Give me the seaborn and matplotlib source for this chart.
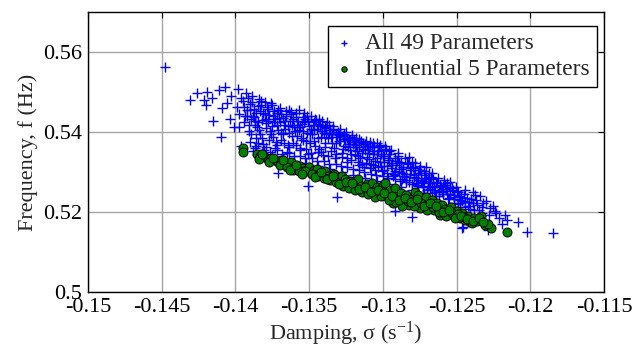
import matplotlib
matplotlib.use("Agg")
import matplotlib.pyplot as plt
from matplotlib.ticker import FuncFormatter, FixedLocator
import seaborn as sns
import pandas as pd

# ---------------- data (damping, frequency) ----------------
legend_labels = ["All 49 Parameters", "Influential 5 Parameters"]
x_ticks = [-0.15, -0.145, -0.14, -0.135, -0.13, -0.125, -0.12, -0.115]
y_ticks = [0.5, 0.52, 0.54, 0.56]

blue_pts = [
    (-0.14480, 0.5562), (-0.14310, 0.5480), (-0.14263, 0.5498), (-0.14190, 0.5501),
    (-0.14210, 0.5480), (-0.14200, 0.5468), (-0.14160, 0.5484), (-0.14150, 0.5428),
    (-0.14110, 0.5505), (-0.14100, 0.5387), (-0.14090, 0.5459), (-0.14070, 0.5513),
    (-0.14060, 0.5472), (-0.14040, 0.5433), (-0.14010, 0.5413), (-0.14030, 0.5490),
    (-0.13985, 0.5508), (-0.13990, 0.5462), (-0.13975, 0.5445), (-0.13960, 0.5365),
    (-0.13950, 0.5478), (-0.13940, 0.5425), (-0.13930, 0.5497), (-0.13920, 0.5455),
    (-0.13905, 0.5402), (-0.13900, 0.5470), (-0.13890, 0.5490), (-0.13880, 0.5440),
    (-0.13870, 0.5418), (-0.13860, 0.5385), (-0.13850, 0.5465), (-0.13840, 0.5482),
    (-0.13830, 0.5452), (-0.13820, 0.5430), (-0.13810, 0.5370), (-0.13800, 0.5475),
    (-0.13790, 0.5410), (-0.13780, 0.5458), (-0.13770, 0.5442), (-0.13760, 0.5395),
    (-0.13750, 0.5468), (-0.13740, 0.5425), (-0.13730, 0.5360), (-0.13720, 0.5448),
    (-0.13710, 0.5405), (-0.13700, 0.5460), (-0.13690, 0.5380), (-0.13680, 0.5436),
    (-0.13670, 0.5418), (-0.13660, 0.5452), (-0.13650, 0.5350), (-0.13640, 0.5398),
    (-0.13630, 0.5428), (-0.13620, 0.5445), (-0.13610, 0.5372), (-0.13600, 0.5412),
    (-0.13590, 0.5438), (-0.13580, 0.5390), (-0.13570, 0.5455), (-0.13560, 0.5360),
    (-0.13550, 0.5420), (-0.13540, 0.5402), (-0.13530, 0.5432), (-0.13520, 0.5378),
    (-0.13510, 0.5345), (-0.13500, 0.5415), (-0.13490, 0.5440), (-0.13480, 0.5395),
    (-0.13470, 0.5425), (-0.13460, 0.5365), (-0.13450, 0.5408), (-0.13440, 0.5385),
    (-0.13430, 0.5432), (-0.13420, 0.5350), (-0.13410, 0.5418), (-0.13400, 0.5398),
    (-0.13390, 0.5372), (-0.13380, 0.5425), (-0.13370, 0.5340), (-0.13360, 0.5405),
    (-0.13350, 0.5388), (-0.13340, 0.5415), (-0.13330, 0.5360), (-0.13320, 0.5395),
    (-0.13310, 0.5238), (-0.13300, 0.5378), (-0.13290, 0.5408), (-0.13280, 0.5348),
    (-0.13270, 0.5390), (-0.13260, 0.5365), (-0.13250, 0.5400), (-0.13240, 0.5335),
    (-0.13230, 0.5380), (-0.13220, 0.5355), (-0.13210, 0.5392), (-0.13200, 0.5370),
    (-0.13190, 0.5342), (-0.13180, 0.5385), (-0.13170, 0.5325), (-0.13160, 0.5362),
    (-0.13150, 0.5378), (-0.13140, 0.5348), (-0.13130, 0.5312), (-0.13120, 0.5370),
    (-0.13110, 0.5338), (-0.13100, 0.5358), (-0.13090, 0.5375), (-0.13080, 0.5320),
    (-0.13070, 0.5345), (-0.13060, 0.5365), (-0.13050, 0.5305), (-0.13040, 0.5335),
    (-0.13030, 0.5352), (-0.13020, 0.5368), (-0.13010, 0.5315), (-0.13000, 0.5340),
    (-0.12990, 0.5325), (-0.12980, 0.5358), (-0.12970, 0.5298), (-0.12960, 0.5330),
    (-0.12950, 0.5345), (-0.12940, 0.5310), (-0.12930, 0.5290), (-0.12920, 0.5335),
    (-0.12910, 0.5318), (-0.12900, 0.5347), (-0.12890, 0.5300), (-0.12880, 0.5325),
    (-0.12870, 0.5282), (-0.12860, 0.5312), (-0.12850, 0.5335), (-0.12840, 0.5295),
    (-0.12830, 0.5320), (-0.12820, 0.5275), (-0.12810, 0.5305), (-0.12800, 0.5325),
    (-0.12790, 0.5288), (-0.12780, 0.5310), (-0.12770, 0.5268), (-0.12760, 0.5298),
    (-0.12750, 0.5315), (-0.12740, 0.5280), (-0.12730, 0.5262), (-0.12720, 0.5302),
    (-0.12710, 0.5285), (-0.12700, 0.5255), (-0.12690, 0.5297), (-0.12680, 0.5272),
    (-0.12670, 0.5248), (-0.12660, 0.5282), (-0.12650, 0.5265), (-0.12635, 0.5272),
    (-0.12620, 0.5240), (-0.12600, 0.5258), (-0.12580, 0.5268), (-0.12567, 0.5273),
    (-0.12550, 0.5235), (-0.12533, 0.5259), (-0.12520, 0.5222), (-0.12500, 0.5252),
    (-0.12480, 0.5230), (-0.12465, 0.5159), (-0.12450, 0.5245), (-0.12420, 0.5215),
    (-0.12390, 0.5223), (-0.12374, 0.5243), (-0.12350, 0.5205), (-0.12330, 0.5213),
    (-0.12300, 0.5228), (-0.12284, 0.5155), (-0.12255, 0.5215), (-0.12230, 0.5198),
    (-0.12190, 0.5169), (-0.12160, 0.5180), (-0.12080, 0.5176), (-0.12020, 0.5151),
    (-0.11845, 0.5148),
    (-0.13895, 0.5432), (-0.13875, 0.5458), (-0.13855, 0.5412), (-0.13835, 0.5395),
    (-0.13815, 0.5448), (-0.13795, 0.5432), (-0.13775, 0.5380), (-0.13755, 0.5415),
    (-0.13735, 0.5452), (-0.13715, 0.5368), (-0.13695, 0.5425), (-0.13675, 0.5395),
    (-0.13655, 0.5440), (-0.13635, 0.5362), (-0.13615, 0.5418), (-0.13595, 0.5402),
    (-0.13575, 0.5428), (-0.13555, 0.5385), (-0.13535, 0.5448), (-0.13515, 0.5398),
    (-0.13495, 0.5372), (-0.13475, 0.5418), (-0.13455, 0.5430), (-0.13435, 0.5358),
    (-0.13415, 0.5402), (-0.13395, 0.5413), (-0.13375, 0.5385), (-0.13355, 0.5352),
    (-0.13335, 0.5405), (-0.13315, 0.5372), (-0.13295, 0.5392), (-0.13275, 0.5338),
    (-0.13255, 0.5382), (-0.13235, 0.5362), (-0.13215, 0.5345), (-0.13195, 0.5380),
    (-0.13175, 0.5352), (-0.13155, 0.5335), (-0.13135, 0.5372), (-0.13115, 0.5322),
    (-0.13095, 0.5348), (-0.13075, 0.5362), (-0.13055, 0.5328), (-0.13035, 0.5312),
    (-0.13015, 0.5355), (-0.12995, 0.5340), (-0.12975, 0.5315), (-0.12955, 0.5352),
    (-0.12935, 0.5322), (-0.12915, 0.5302), (-0.12895, 0.5340), (-0.12875, 0.5308),
    (-0.12855, 0.5290), (-0.12835, 0.5322), (-0.12815, 0.5295), (-0.12795, 0.5312),
    (-0.12775, 0.5285), (-0.12755, 0.5305), (-0.12735, 0.5275), (-0.12715, 0.5292),
    (-0.12695, 0.5265), (-0.12675, 0.5288), (-0.12655, 0.5255), (-0.12615, 0.5268),
    (-0.12595, 0.5245), (-0.12575, 0.5258), (-0.12545, 0.5262), (-0.12515, 0.5238),
    (-0.12490, 0.5250), (-0.12460, 0.5228), (-0.12430, 0.5236), (-0.12410, 0.5208),
    (-0.13710, 0.5297), (-0.13510, 0.5265), (-0.12917, 0.5203), (-0.12805, 0.5188),
    (-0.12454, 0.5162),
    (-0.13870, 0.5360), (-0.13845, 0.5372), (-0.13805, 0.5355), (-0.13765, 0.5350),
    (-0.13725, 0.5375), (-0.13685, 0.5345), (-0.13645, 0.5368), (-0.13605, 0.5340),
    (-0.13565, 0.5355), (-0.13525, 0.5335), (-0.13485, 0.5348), (-0.13445, 0.5328),
    (-0.13405, 0.5342), (-0.13365, 0.5320), (-0.13325, 0.5335), (-0.13285, 0.5315),
    (-0.13245, 0.5325), (-0.13205, 0.5308), (-0.13165, 0.5318), (-0.13125, 0.5300),
    (-0.13085, 0.5310), (-0.13045, 0.5292), (-0.13005, 0.5302), (-0.12965, 0.5285),
    (-0.12925, 0.5296), (-0.12885, 0.5278), (-0.12845, 0.5288), (-0.12805, 0.5270),
    (-0.12765, 0.5280), (-0.12725, 0.5262), (-0.12685, 0.5272), (-0.12645, 0.5250),
    (-0.12605, 0.5262), (-0.12565, 0.5245), (-0.12525, 0.5255), (-0.12485, 0.5240),
    (-0.12445, 0.5225), (-0.12400, 0.5232), (-0.12360, 0.5218), (-0.12320, 0.5222),
    (-0.12270, 0.5210), (-0.12240, 0.5203), (-0.12210, 0.5185), (-0.12170, 0.5192),
    (-0.13960, 0.5485), (-0.13935, 0.5440), (-0.13910, 0.5418), (-0.13885, 0.5475),
    (-0.13860, 0.5448), (-0.13825, 0.5468), (-0.13785, 0.5462), (-0.13745, 0.5440),
    (-0.13705, 0.5435), (-0.13665, 0.5408), (-0.13625, 0.5450), (-0.13585, 0.5418),
    (-0.13545, 0.5438), (-0.13505, 0.5428), (-0.13465, 0.5405), (-0.13425, 0.5415),
    (-0.13385, 0.5410), (-0.13345, 0.5395), (-0.13305, 0.5400), (-0.13265, 0.5395),
    (-0.13225, 0.5380), (-0.13185, 0.5368), (-0.13145, 0.5375), (-0.13105, 0.5365),
    (-0.13065, 0.5372), (-0.13025, 0.5362), (-0.12985, 0.5366), (-0.12945, 0.5355),
    (-0.12905, 0.5328), (-0.12865, 0.5313), (-0.12825, 0.5338), (-0.12785, 0.5322),
    (-0.12745, 0.5305), (-0.12705, 0.5312), (-0.12665, 0.5298), (-0.12625, 0.5285),
    (-0.12585, 0.5280), (-0.12545, 0.5274), (-0.12505, 0.5262), (-0.12440, 0.5255),
    (-0.12390, 0.5250), (-0.12340, 0.5240),
    (-0.13900, 0.5375), (-0.13880, 0.5352), (-0.13860, 0.5365), (-0.13820, 0.5348),
    (-0.13790, 0.5362), (-0.13750, 0.5342), (-0.13720, 0.5355), (-0.13680, 0.5335),
    (-0.13640, 0.5348), (-0.13600, 0.5328), (-0.13560, 0.5340), (-0.13520, 0.5322),
    (-0.13480, 0.5335), (-0.13440, 0.5315), (-0.13400, 0.5328), (-0.13360, 0.5308),
    (-0.13320, 0.5320), (-0.13280, 0.5300), (-0.13240, 0.5312), (-0.13200, 0.5292),
    (-0.13160, 0.5305), (-0.13120, 0.5285), (-0.13080, 0.5296), (-0.13040, 0.5278),
    (-0.13000, 0.5290), (-0.12960, 0.5270), (-0.12920, 0.5282), (-0.12880, 0.5262),
    (-0.12840, 0.5274), (-0.12800, 0.5255), (-0.12760, 0.5266), (-0.12720, 0.5248),
    (-0.12680, 0.5258), (-0.12640, 0.5240), (-0.12600, 0.5250), (-0.12560, 0.5232),
    (-0.12520, 0.5242), (-0.12480, 0.5222), (-0.12440, 0.5212), (-0.12380, 0.5205),
    (-0.12330, 0.5198), (-0.12280, 0.5192),
    (-0.13920, 0.5440), (-0.13895, 0.5395), (-0.13868, 0.5428), (-0.13842, 0.5405),
    (-0.13818, 0.5385), (-0.13792, 0.5422), (-0.13768, 0.5402), (-0.13742, 0.5388),
    (-0.13718, 0.5418), (-0.13692, 0.5398), (-0.13668, 0.5372), (-0.13642, 0.5415),
    (-0.13618, 0.5390), (-0.13592, 0.5368), (-0.13568, 0.5405), (-0.13542, 0.5380),
    (-0.13518, 0.5358), (-0.13492, 0.5395), (-0.13468, 0.5378), (-0.13442, 0.5350),
    (-0.13418, 0.5388), (-0.13392, 0.5362), (-0.13368, 0.5398), (-0.13342, 0.5372),
    (-0.13318, 0.5345), (-0.13292, 0.5378), (-0.13268, 0.5358), (-0.13242, 0.5385),
    (-0.13218, 0.5330), (-0.13192, 0.5362), (-0.13168, 0.5340), (-0.13142, 0.5320),
    (-0.13118, 0.5355), (-0.13092, 0.5332), (-0.13068, 0.5318), (-0.13042, 0.5345),
    (-0.13018, 0.5325), (-0.12992, 0.5305), (-0.12968, 0.5335), (-0.12942, 0.5318),
    (-0.12918, 0.5292), (-0.12892, 0.5322), (-0.12868, 0.5298), (-0.12842, 0.5280),
    (-0.12818, 0.5310), (-0.12792, 0.5292), (-0.12768, 0.5272), (-0.12742, 0.5298),
    (-0.12718, 0.5278), (-0.12692, 0.5282), (-0.12668, 0.5262), (-0.12642, 0.5275),
    (-0.12618, 0.5252), (-0.12592, 0.5266), (-0.12568, 0.5252), (-0.12542, 0.5245),
    (-0.12518, 0.5232), (-0.12492, 0.5220), (-0.12468, 0.5238), (-0.12418, 0.5226),
    (-0.12370, 0.5230),
    (-0.13975, 0.5412), (-0.13945, 0.5462), (-0.13915, 0.5485), (-0.13898, 0.5455),
    (-0.13872, 0.5438), (-0.13848, 0.5425), (-0.13828, 0.5478), (-0.13802, 0.5445),
    (-0.13778, 0.5428), (-0.13758, 0.5472), (-0.13732, 0.5432), (-0.13708, 0.5455),
    (-0.13688, 0.5445), (-0.13662, 0.5428), (-0.13638, 0.5455), (-0.13612, 0.5432),
    (-0.13588, 0.5448), (-0.13562, 0.5412), (-0.13538, 0.5425), (-0.13512, 0.5440),
    (-0.13488, 0.5408), (-0.13462, 0.5432), (-0.13438, 0.5420), (-0.13412, 0.5428),
    (-0.13388, 0.5395), (-0.13362, 0.5418), (-0.13338, 0.5408), (-0.13312, 0.5388),
    (-0.13288, 0.5398), (-0.13262, 0.5382), (-0.13238, 0.5370), (-0.13212, 0.5388),
    (-0.13188, 0.5375), (-0.13162, 0.5382), (-0.13138, 0.5358), (-0.13112, 0.5378),
    (-0.13088, 0.5365), (-0.13062, 0.5352), (-0.13038, 0.5372), (-0.13012, 0.5345),
]

green_pts = [
    (-0.13950, 0.5360), (-0.13946, 0.5349),
    (-0.13856, 0.5345), (-0.13830, 0.5340), (-0.13800, 0.5338), (-0.13780, 0.5332),
    (-0.13760, 0.5335), (-0.13731, 0.5330), (-0.13710, 0.5326), (-0.13690, 0.5329),
    (-0.13663, 0.5322), (-0.13640, 0.5318), (-0.13620, 0.5324), (-0.13600, 0.5313),
    (-0.13580, 0.5310), (-0.13560, 0.5316), (-0.13540, 0.5310), (-0.13520, 0.5304),
    (-0.13500, 0.5312), (-0.13490, 0.5298), (-0.13470, 0.5304), (-0.13450, 0.5308),
    (-0.13430, 0.5296), (-0.13410, 0.5292), (-0.13390, 0.5302), (-0.13370, 0.5290),
    (-0.13350, 0.5286), (-0.13330, 0.5296), (-0.13310, 0.5282), (-0.13290, 0.5278),
    (-0.13280, 0.5290), (-0.13260, 0.5282), (-0.13240, 0.5270), (-0.13220, 0.5278),
    (-0.13200, 0.5266), (-0.13185, 0.5276), (-0.13168, 0.5282), (-0.13150, 0.5265),
    (-0.13130, 0.5252), (-0.13110, 0.5270), (-0.13090, 0.5258), (-0.13076, 0.5272),
    (-0.13060, 0.5245), (-0.13040, 0.5262), (-0.13020, 0.5250), (-0.13000, 0.5268),
    (-0.12985, 0.5273), (-0.12970, 0.5240), (-0.12950, 0.5255), (-0.12930, 0.5222),
    (-0.12917, 0.5259), (-0.12900, 0.5235), (-0.12880, 0.5248), (-0.12860, 0.5228),
    (-0.12840, 0.5242), (-0.12820, 0.5218), (-0.12800, 0.5232), (-0.12780, 0.5250),
    (-0.12760, 0.5243), (-0.12748, 0.5209), (-0.12730, 0.5225), (-0.12710, 0.5238),
    (-0.12690, 0.5215), (-0.12670, 0.5230), (-0.12650, 0.5205), (-0.12635, 0.5222),
    (-0.12612, 0.5193), (-0.12600, 0.5218), (-0.12580, 0.5208), (-0.12560, 0.5198),
    (-0.12540, 0.5212), (-0.12520, 0.5190), (-0.12500, 0.5203), (-0.12480, 0.5185),
    (-0.12460, 0.5198), (-0.12440, 0.5180), (-0.12420, 0.5190), (-0.12408, 0.5176),
    (-0.12398, 0.5172), (-0.12380, 0.5185), (-0.12334, 0.5190), (-0.12310, 0.5168),
    (-0.12266, 0.5161), (-0.12155, 0.5149),
    (-0.13840, 0.5332), (-0.13770, 0.5326), (-0.13700, 0.5318), (-0.13650, 0.5312),
    (-0.13610, 0.5305), (-0.13570, 0.5302), (-0.13530, 0.5302), (-0.13480, 0.5295),
    (-0.13440, 0.5290), (-0.13400, 0.5286), (-0.13360, 0.5280), (-0.13320, 0.5274),
    (-0.13270, 0.5266), (-0.13230, 0.5260), (-0.13190, 0.5256), (-0.13140, 0.5250),
    (-0.13100, 0.5244), (-0.13050, 0.5238), (-0.13010, 0.5240), (-0.12960, 0.5230),
    (-0.12910, 0.5224), (-0.12870, 0.5216), (-0.12830, 0.5228), (-0.12790, 0.5214),
    (-0.12740, 0.5222), (-0.12700, 0.5206), (-0.12660, 0.5212), (-0.12620, 0.5200),
    (-0.12570, 0.5190), (-0.12530, 0.5198), (-0.12490, 0.5195), (-0.12450, 0.5188),
    (-0.12360, 0.5178), (-0.12290, 0.5170),
    (-0.13820, 0.5344), (-0.13745, 0.5336), (-0.13675, 0.5330), (-0.13630, 0.5306),
    (-0.13590, 0.5318), (-0.13550, 0.5296), (-0.13460, 0.5288), (-0.13420, 0.5300),
    (-0.13380, 0.5282), (-0.13340, 0.5290), (-0.13300, 0.5270), (-0.13250, 0.5276),
    (-0.13210, 0.5272), (-0.13160, 0.5258), (-0.13120, 0.5262), (-0.13080, 0.5250),
    (-0.13030, 0.5256), (-0.12990, 0.5248), (-0.12940, 0.5240), (-0.12890, 0.5230),
    (-0.12850, 0.5236), (-0.12810, 0.5225), (-0.12770, 0.5232), (-0.12720, 0.5214),
    (-0.12680, 0.5222), (-0.12640, 0.5214), (-0.12590, 0.5200), (-0.12550, 0.5205),
    (-0.12510, 0.5185), (-0.12470, 0.5190), (-0.12430, 0.5182), (-0.12390, 0.5178),
    (-0.12350, 0.5186), (-0.12320, 0.5175),
]

blue_df = pd.DataFrame(blue_pts, columns=["damping", "freq"])
green_df = pd.DataFrame(green_pts, columns=["damping", "freq"])

# ---------------- style ----------------
sns.set_style("white")
plt.rcParams["font.family"] = ["Liberation Serif", "DejaVu Serif"]
plt.rcParams["mathtext.fontset"] = "custom"
plt.rcParams["mathtext.rm"] = "Liberation Serif"
plt.rcParams["axes.unicode_minus"] = False

fig = plt.figure(figsize=(6.43, 3.52), dpi=100)
ax = fig.add_axes([88 / 643, 1 - 292 / 352, 516 / 643, 280 / 352])

sns.scatterplot(data=blue_df, x="damping", y="freq", marker="+", color="#0000ff",
                s=50, linewidth=1.0, ax=ax, label=legend_labels[0], zorder=2)
sns.scatterplot(data=green_df, x="damping", y="freq", marker="o", color="#008000",
                edgecolor="black", s=42, linewidth=0.7, ax=ax,
                label=legend_labels[1], zorder=3)

ax.set_xlim(-0.15, -0.115)
ax.set_ylim(0.5, 0.57)
ax.xaxis.set_major_locator(FixedLocator(x_ticks))
ax.yaxis.set_major_locator(FixedLocator(y_ticks))
fmt = FuncFormatter(lambda v, p: "%g" % round(v, 4))
ax.xaxis.set_major_formatter(fmt)
ax.yaxis.set_major_formatter(fmt)

ax.set_axisbelow(True)
ax.grid(True, color="#a6a6a6", linewidth=1.0)
for sp in ax.spines.values():
    sp.set_visible(True)
    sp.set_color("black")
    sp.set_linewidth(1.0)
ax.tick_params(direction="in", length=4, width=0.8, top=True, right=True,
               labelsize=16, colors="black", pad=4)

ax.set_xlabel(r"Damping, σ (s$\mathregular{^{-1}}$)", fontsize=16, labelpad=2)
ax.set_ylabel("Frequency, f (Hz)", fontsize=16, labelpad=4)

leg = ax.legend(loc="upper right", bbox_to_anchor=(0.9864, 0.951), borderaxespad=0,
                fontsize=16.8, frameon=True, fancybox=False, edgecolor="black",
                framealpha=1, borderpad=0.3, labelspacing=0.2, handlelength=0.8,
                handletextpad=0.5, markerscale=0.6)
leg.get_frame().set_linewidth(1.0)

fig.savefig("out.png", dpi=100)
